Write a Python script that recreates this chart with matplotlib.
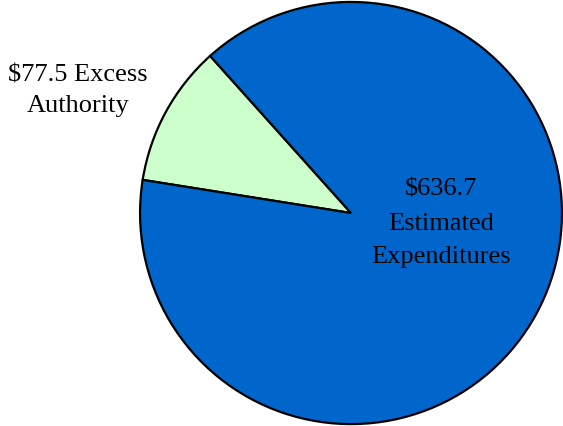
import matplotlib
matplotlib.use("Agg")
import matplotlib.pyplot as plt

labels = ["$77.5 Excess\nAuthority", "$636.7\nEstimated\nExpenditures"]
values = [77.5, 636.7]
colors = ["#CCFFCC", "#0066CC"]

plt.rcParams["font.family"] = ["Liberation Serif", "DejaVu Serif"]

fig = plt.figure(figsize=(5.63, 4.27), dpi=100)
ax = fig.add_axes([0, 0, 1, 1])

wedges, _ = ax.pie(values, colors=colors, startangle=131.9, counterclock=True,
                   radius=1.0, center=(0, 0),
                   wedgeprops=dict(edgecolor="black", linewidth=1.6))

# slice labels, escaped so the dollar sign is not read as mathtext
ax.text(-1.294, 0.583, labels[0].replace("$", r"\$"), ha="center", va="center",
        fontsize=19, linespacing=1.5)
ax.text(0.427, -0.045, labels[1].replace("$", r"\$"), ha="center", va="center",
        fontsize=19, linespacing=1.68)

ax.set_xlim(-1.664, 1.005)
ax.set_ylim(-1.009, 1.014)
ax.set_aspect("auto")
ax.axis("off")

fig.savefig("out.png", dpi=100)
